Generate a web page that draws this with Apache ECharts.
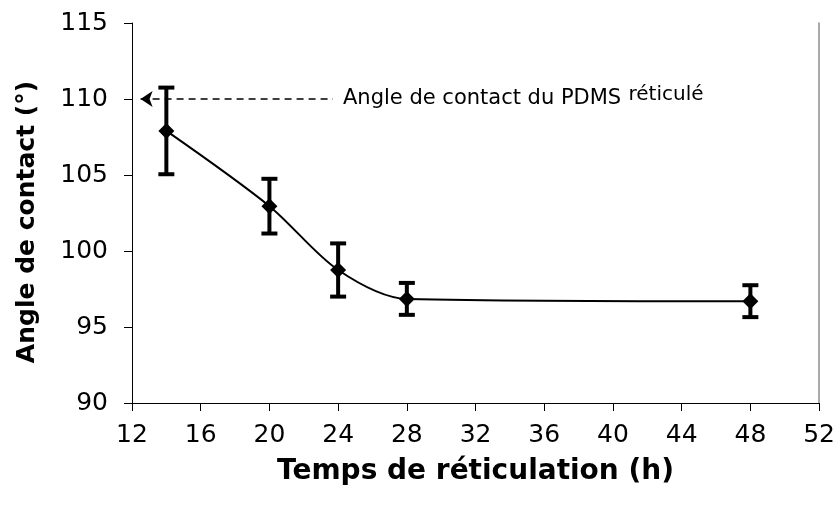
<!DOCTYPE html>
<html>
<head>
<meta charset="utf-8">
<title>Angle de contact du PDMS</title>
<script src="https://cdn.jsdelivr.net/npm/echarts@6/dist/echarts.min.js"></script>
<style>
  html, body { margin: 0; padding: 0; background: #ffffff; }
  #chart { width: 838px; height: 516px; }
</style>
</head>
<body>
<div id="chart"></div>
<script>
// Crosslinking time (h)
const hours = [14, 20, 24, 28, 48];
// Mean contact angle (°)
const angles = [107.9, 102.95, 98.75, 96.85, 96.7];
// Half-width of the error bars (°)
const errors = [2.85, 1.8, 1.75, 1.05, 1.05];
// Contact angle of crosslinked PDMS (°), marked by the dashed arrow
const pdmsAngle = 110;
const arrowSpan = [12.5, 23.7];

const xTicks = { min: 12, max: 52, interval: 4 };
const yTicks = { min: 90, max: 115, interval: 5 };

const FONT = 'DejaVu Sans';

const chart = echarts.init(document.getElementById('chart'), null, { renderer: 'canvas' });

const points = hours.map((h, i) => [h, angles[i]]);
const bars = hours.map((h, i) => [h, angles[i] - errors[i], angles[i] + errors[i]]);

chart.setOption({
  animation: false,
  backgroundColor: '#ffffff',
  grid: { left: 132, right: 18, top: 23, bottom: 113, containLabel: false },
  xAxis: {
    type: 'value',
    min: xTicks.min, max: xTicks.max, interval: xTicks.interval,
    name: 'Temps de réticulation (h)',
    nameLocation: 'middle',
    nameGap: 55,
    nameTextStyle: { fontFamily: FONT, fontSize: 28, fontWeight: 'bold', color: '#000' },
    axisLine: { show: true, onZero: false, lineStyle: { color: '#000', width: 1 } },
    axisTick: { show: true, inside: false, length: 8, lineStyle: { color: '#000' } },
    axisLabel: { fontFamily: FONT, fontSize: 25, color: '#000', margin: 20 },
    splitLine: { show: false }
  },
  yAxis: [{
    type: 'value',
    min: yTicks.min, max: yTicks.max, interval: yTicks.interval,
    name: 'Angle de contact (°)',
    nameLocation: 'middle',
    nameGap: 92,
    nameRotate: 90,
    nameTextStyle: { fontFamily: FONT, fontSize: 25, fontWeight: 'bold', color: '#000', padding: [0, 18, 0, 0] },
    axisLine: { show: true, onZero: false, lineStyle: { color: '#000', width: 1 } },
    axisTick: { show: true, inside: false, length: 8, lineStyle: { color: '#000' } },
    axisLabel: { fontFamily: FONT, fontSize: 25, color: '#000', margin: 24 },
    splitLine: { show: false }
  }, {
    type: 'value',
    position: 'right',
    min: yTicks.min, max: yTicks.max, interval: yTicks.interval,
    axisLine: { show: true, onZero: false, lineStyle: { color: '#8c8c8c', width: 1.5 } },
    axisTick: { show: false },
    axisLabel: { show: false },
    splitLine: { show: false }
  }],
  series: [
    {
      name: 'barres',
      type: 'custom',
      silent: true,
      data: bars,
      encode: { x: 0, y: [1, 2] },
      renderItem: function (params, api) {
        const x = api.value(0);
        const lo = api.coord([x, api.value(1)]);
        const hi = api.coord([x, api.value(2)]);
        const cap = 8;
        const style = { stroke: '#000', lineWidth: 4 };
        return {
          type: 'group',
          children: [
            { type: 'line', shape: { x1: lo[0], y1: lo[1], x2: hi[0], y2: hi[1] }, style: style },
            { type: 'line', shape: { x1: lo[0] - cap, y1: lo[1], x2: lo[0] + cap, y2: lo[1] }, style: style },
            { type: 'line', shape: { x1: hi[0] - cap, y1: hi[1], x2: hi[0] + cap, y2: hi[1] }, style: style }
          ]
        };
      },
      z: 2
    },
    {
      name: 'angle',
      type: 'line',
      data: points,
      smooth: 0.3,
      symbol: 'diamond',
      symbolSize: 16,
      itemStyle: { color: '#000' },
      lineStyle: { color: '#000', width: 2 },
      z: 3,
      markLine: {
        silent: true,
        symbol: ['arrow', 'none'],
        symbolSize: 12,
        lineStyle: { color: '#000', width: 1.5, type: [7, 5] },
        label: {
          show: true,
          position: 'end',
          distance: 10,
          formatter: '{a|Angle de contact du PDMS} {b|réticulé}',
          rich: {
            a: { fontFamily: FONT, fontSize: 21, color: '#000' },
            b: { fontFamily: FONT, fontSize: 20, color: '#000', padding: [0, 0, 8, 4] }
          }
        },
        data: [[{ coord: [arrowSpan[0], pdmsAngle] }, { coord: [arrowSpan[1], pdmsAngle] }]]
      }
    }
  ]
});
</script>
</body>
</html>
